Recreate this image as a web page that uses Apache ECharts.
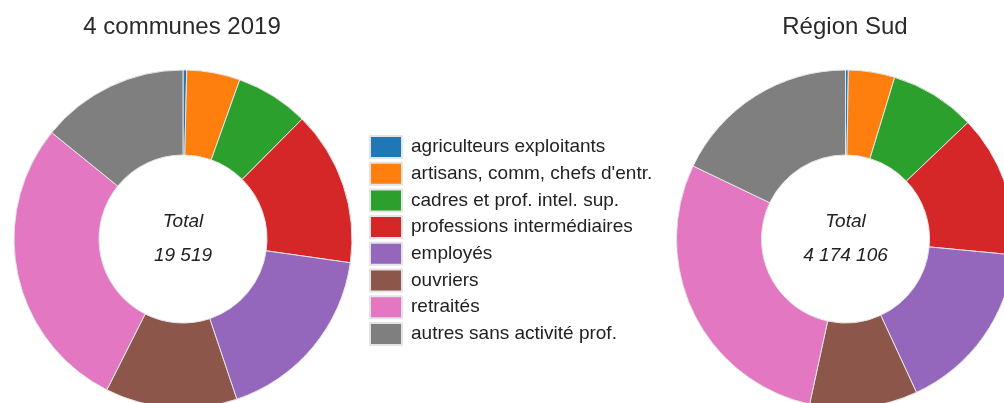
<!DOCTYPE html>
<html>
<head>
<meta charset="utf-8">
<script src="https://cdn.jsdelivr.net/npm/echarts@6/dist/echarts.min.js"></script>
<style>
  html, body { margin: 0; padding: 0; background: #fff; }
  #chart { width: 1004px; height: 403px; }
</style>
</head>
<body>
<div id="chart"></div>
<script>
const categories = [
  'agriculteurs exploitants',
  'artisans, comm, chefs d\'entr.',
  'cadres et prof. intel. sup.',
  'professions intermédiaires',
  'employés',
  'ouvriers',
  'retraités',
  'autres sans activité prof.'
];
const colors = ['#1f77b4', '#ff7f0e', '#2ca02c', '#d62728', '#9467bd', '#8c564b', '#e377c2', '#7f7f7f'];
const titles = ['4 communes 2019', 'Région Sud'];
const communesValues = [68, 995, 1366, 2889, 3435, 2459, 5543, 2764];
const regionValues = [11270, 185000, 342000, 568000, 693000, 430000, 1198000, 746836];

const font = "'Liberation Sans', Arial, sans-serif";

function formatTotal(arr) {
  let sum = arr.reduce((a, b) => a + b, 0);
  return String(sum).replace(/\B(?=(\d{3})+(?!\d))/g, ' ');
}

function toData(values) {
  return values.map((v, i) => ({ name: categories[i], value: v }));
}

const chart = echarts.init(document.getElementById('chart'));

function donut(center, values) {
  return {
    type: 'pie',
    center: center,
    radius: [84, 169],
    startAngle: 90,
    clockwise: true,
    silent: true,
    avoidLabelOverlap: false,
    label: { show: false },
    labelLine: { show: false },
    itemStyle: { borderColor: '#e4e4e4', borderWidth: 1 },
    data: toData(values)
  };
}

chart.setOption({
  animation: false,
  color: colors,
  legend: {
    orient: 'vertical',
    left: 369,
    top: 135,
    padding: 0,
    icon: 'rect',
    itemWidth: 32,
    itemHeight: 22,
    itemGap: 2.7,
    selectedMode: false,
    data: categories,
    textStyle: { fontFamily: font, fontSize: 19, lineHeight: 22, color: '#222', padding: [0, 0, 0, 4] }
  },
  graphic: [
    {
      type: 'text', x: 182, y: 27,
      style: { text: titles[0], textAlign: 'center', textVerticalAlign: 'middle', font: '24px ' + font, fill: '#2a2a2a' }
    },
    {
      type: 'text', x: 845, y: 27,
      style: { text: titles[1], textAlign: 'center', textVerticalAlign: 'middle', font: '24px ' + font, fill: '#2a2a2a' }
    },
    {
      type: 'text', x: 183, y: 239,
      style: { text: 'Total\n' + formatTotal(communesValues), textAlign: 'center', textVerticalAlign: 'middle', font: 'italic 19px ' + font, lineHeight: 34, fill: '#222' }
    },
    {
      type: 'text', x: 845.5, y: 239,
      style: { text: 'Total\n' + formatTotal(regionValues), textAlign: 'center', textVerticalAlign: 'middle', font: 'italic 19px ' + font, lineHeight: 34, fill: '#222' }
    }
  ],
  series: [
    donut([183, 239], communesValues),
    donut([845.5, 239], regionValues)
  ]
});
</script>
</body>
</html>
